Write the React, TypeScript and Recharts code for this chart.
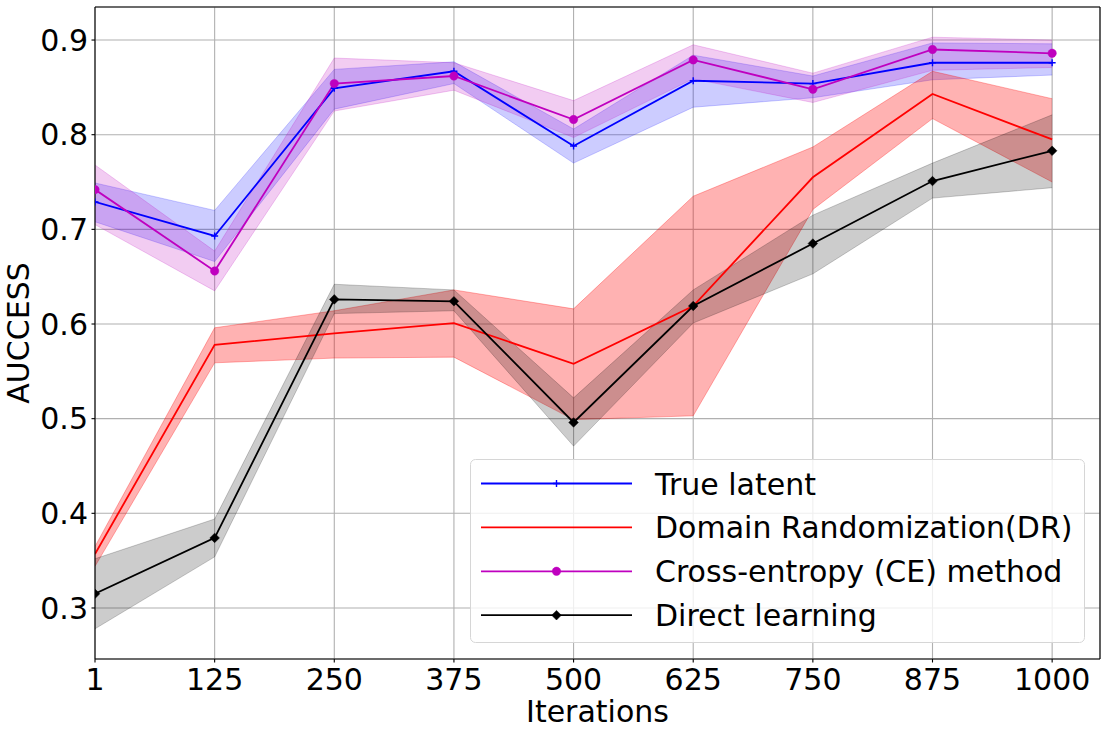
import React from 'react';
import {
  ComposedChart,
  Line,
  Area,
  XAxis,
  YAxis,
  CartesianGrid,
  ReferenceLine,
} from 'recharts';

const iterations = ['1', '125', '250', '375', '500', '625', '750', '875', '1000'];

const trueLatentMean = [0.729, 0.693, 0.849, 0.867, 0.788, 0.857, 0.854, 0.876, 0.876];
const trueLatentLow = [0.708, 0.666, 0.827, 0.854, 0.770, 0.829, 0.839, 0.858, 0.863];
const trueLatentHigh = [0.749, 0.720, 0.869, 0.877, 0.806, 0.884, 0.862, 0.897, 0.896];

const drMean = [0.357, 0.578, 0.590, 0.601, 0.558, 0.619, 0.755, 0.843, 0.795];
const drLow = [0.344, 0.559, 0.564, 0.565, 0.499, 0.503, 0.721, 0.817, 0.750];
const drHigh = [0.365, 0.596, 0.614, 0.636, 0.616, 0.735, 0.787, 0.867, 0.838];

const ceMean = [0.742, 0.656, 0.854, 0.862, 0.816, 0.879, 0.848, 0.890, 0.886];
const ceLow = [0.705, 0.635, 0.825, 0.847, 0.797, 0.859, 0.834, 0.868, 0.871];
const ceHigh = [0.768, 0.677, 0.881, 0.876, 0.836, 0.895, 0.865, 0.903, 0.900];

const directMean = [0.315, 0.374, 0.626, 0.624, 0.496, 0.619, 0.685, 0.751, 0.783];
const directLow = [0.278, 0.354, 0.611, 0.614, 0.471, 0.601, 0.653, 0.733, 0.744];
const directHigh = [0.352, 0.394, 0.642, 0.636, 0.522, 0.636, 0.715, 0.770, 0.821];

const yTicks = [0.3, 0.4, 0.5, 0.6, 0.7, 0.8, 0.9];
const xTicks = iterations.map((_, i) => i);

const X_MIN = 0;
const X_MAX = 8.4;
const Y_MIN = 0.2461;
const Y_MAX = 0.9349;

const BLUE = '#0000ff';
const RED = '#ff0000';
const MAGENTA = '#bf00bf';
const BLACK = '#000000';

const FONT = '"DejaVu Sans", Verdana, sans-serif';

const data = iterations.map((label, i) => ({
  x: i,
  label,
  tl: trueLatentMean[i],
  tlBand: [trueLatentLow[i], trueLatentHigh[i]],
  dr: drMean[i],
  drBand: [drLow[i], drHigh[i]],
  ce: ceMean[i],
  ceBand: [ceLow[i], ceHigh[i]],
  dl: directMean[i],
  dlBand: [directLow[i], directHigh[i]],
}));

type MarkerKind = 'plus' | 'circle' | 'diamond' | 'none';

function Marker({ kind, cx, cy, color }: { kind: MarkerKind; cx: number; cy: number; color: string }) {
  if (kind === 'plus') {
    const s = 3.5;
    return (
      <path
        d={`M${cx - s},${cy}H${cx + s}M${cx},${cy - s}V${cy + s}`}
        stroke={color}
        strokeWidth={1.4}
        fill="none"
      />
    );
  }
  if (kind === 'circle') {
    return <circle cx={cx} cy={cy} r={4.2} fill={color} stroke={color} strokeWidth={0.5} />;
  }
  if (kind === 'diamond') {
    const s = 4.8;
    return (
      <path
        d={`M${cx},${cy - s}L${cx + s},${cy}L${cx},${cy + s}L${cx - s},${cy}Z`}
        fill={color}
        stroke={color}
        strokeWidth={0.5}
      />
    );
  }
  return null;
}

const makeDot = (kind: MarkerKind, color: string) => (props: any) => {
  const { cx, cy, index } = props;
  if (kind === 'none' || cx == null || cy == null) return <g key={`n-${index}`} />;
  return (
    <g key={`m-${kind}-${index}`}>
      <Marker kind={kind} cx={cx} cy={cy} color={color} />
    </g>
  );
};

const legendItems: { name: string; color: string; marker: MarkerKind }[] = [
  { name: 'True latent', color: BLUE, marker: 'plus' },
  { name: 'Domain Randomization(DR)', color: RED, marker: 'none' },
  { name: 'Cross-entropy (CE) method', color: MAGENTA, marker: 'circle' },
  { name: 'Direct learning', color: BLACK, marker: 'diamond' },
];

function LegendBox() {
  const w = 615;
  const h = 184;
  const rowH = 43.9;
  const firstRow = 24.5;
  return (
    <div style={{ position: 'absolute', left: 470, top: 459, width: w, height: h }}>
      <svg width={w} height={h} style={{ display: 'block' }}>
        <rect
          x={0.5}
          y={0.5}
          width={w - 1}
          height={h - 1}
          rx={5}
          ry={5}
          fill="rgba(255,255,255,0.8)"
          stroke="#d6d6d6"
          strokeWidth={1}
        />
        {legendItems.map((it, i) => {
          const cy = firstRow + i * rowH;
          return (
            <g key={it.name}>
              <line x1={11} x2={162} y1={cy} y2={cy} stroke={it.color} strokeWidth={1.8} />
              <Marker kind={it.marker} cx={86.5} cy={cy} color={it.color} />
              <text
                x={185}
                y={cy + 11}
                fontFamily={FONT}
                fontSize={30}
                fill="#000"
              >
                {it.name}
              </text>
            </g>
          );
        })}
      </svg>
    </div>
  );
}

export default function App() {
  return (
    <div
      style={{
        position: 'absolute',
        left: 0,
        top: 0,
        width: 1106,
        height: 735,
        background: '#fff',
        fontFamily: FONT,
      }}
    >
      <ComposedChart
        width={1106}
        height={735}
        data={data}
        margin={{ top: 7, right: 6, bottom: 0, left: 0 }}
      >
        <XAxis
          dataKey="x"
          type="number"
          domain={[X_MIN, X_MAX]}
          ticks={xTicks}
          allowDataOverflow
          interval={0}
          tickFormatter={(v: number) => iterations[v] ?? ''}
          height={76}
          axisLine={{ stroke: '#000', strokeWidth: 1.1 }}
          tickLine={{ stroke: '#000', strokeWidth: 1.1 }}
          tickSize={3.5}
          tickMargin={6}
          tick={{ fill: '#000', fontSize: 30, fontFamily: FONT }}
          label={(props: any) => {
            const vb = props.viewBox || {};
            return (
              <text
                x={vb.x + vb.width / 2}
                y={vb.y + 63}
                textAnchor="middle"
                fontFamily={FONT}
                fontSize={30}
                fill="#000"
              >
                Iterations
              </text>
            );
          }}
        />
        <YAxis
          type="number"
          domain={[Y_MIN, Y_MAX]}
          ticks={yTicks}
          allowDataOverflow
          interval={0}
          width={95}
          tickFormatter={(v: number) => v.toFixed(1)}
          axisLine={{ stroke: '#000', strokeWidth: 1.1 }}
          tickLine={{ stroke: '#000', strokeWidth: 1.1 }}
          tickSize={3.5}
          tickMargin={3.5}
          tick={{ fill: '#000', fontSize: 30, fontFamily: FONT }}
          label={(props: any) => {
            const vb = props.viewBox || {};
            const cy = vb.y + vb.height / 2;
            return (
              <text
                x={29}
                y={cy}
                transform={`rotate(-90, 29, ${cy})`}
                textAnchor="middle"
                fontFamily={FONT}
                fontSize={30}
                fill="#000"
              >
                AUCCESS
              </text>
            );
          }}
        />

        <Area
          type="linear"
          dataKey="tlBand"
          stroke={BLUE}
          strokeOpacity={0.2}
          fill={BLUE}
          fillOpacity={0.2}
          isAnimationActive={false}
          dot={false}
          activeDot={false}
        />
        <Area
          type="linear"
          dataKey="drBand"
          stroke={RED}
          strokeOpacity={0.3}
          fill={RED}
          fillOpacity={0.3}
          isAnimationActive={false}
          dot={false}
          activeDot={false}
        />
        <Area
          type="linear"
          dataKey="ceBand"
          stroke={MAGENTA}
          strokeOpacity={0.2}
          fill={MAGENTA}
          fillOpacity={0.2}
          isAnimationActive={false}
          dot={false}
          activeDot={false}
        />
        <Area
          type="linear"
          dataKey="dlBand"
          stroke={BLACK}
          strokeOpacity={0.2}
          fill={BLACK}
          fillOpacity={0.2}
          isAnimationActive={false}
          dot={false}
          activeDot={false}
        />

        <CartesianGrid stroke="#b0b0b0" strokeWidth={1.1} />

        <ReferenceLine y={Y_MAX} stroke="#000" strokeWidth={1.1} ifOverflow="visible" />
        <ReferenceLine x={X_MAX} stroke="#000" strokeWidth={1.1} ifOverflow="visible" />

        <Line
          type="linear"
          dataKey="tl"
          stroke={BLUE}
          strokeWidth={1.8}
          isAnimationActive={false}
          dot={makeDot('plus', BLUE)}
          activeDot={false}
        />
        <Line
          type="linear"
          dataKey="dr"
          stroke={RED}
          strokeWidth={1.8}
          isAnimationActive={false}
          dot={false}
          activeDot={false}
        />
        <Line
          type="linear"
          dataKey="ce"
          stroke={MAGENTA}
          strokeWidth={1.8}
          isAnimationActive={false}
          dot={makeDot('circle', MAGENTA)}
          activeDot={false}
        />
        <Line
          type="linear"
          dataKey="dl"
          stroke={BLACK}
          strokeWidth={1.8}
          isAnimationActive={false}
          dot={makeDot('diamond', BLACK)}
          activeDot={false}
        />
      </ComposedChart>
      <LegendBox />
    </div>
  );
}
